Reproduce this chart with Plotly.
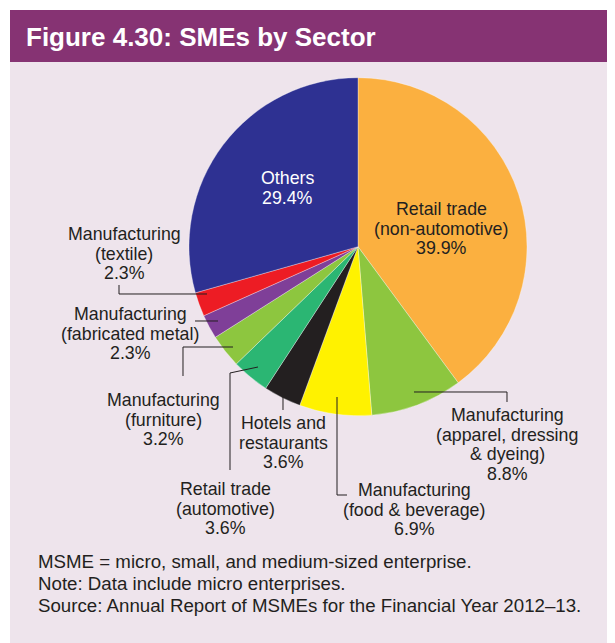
import plotly.graph_objects as go

W, H = 615, 643
OFF = 8  # page body margin of the html page

# ---- data ----
sectors = [
    "Retail trade (non-automotive)",
    "Manufacturing (apparel, dressing & dyeing)",
    "Manufacturing (food & beverage)",
    "Hotels and restaurants",
    "Retail trade (automotive)",
    "Manufacturing (furniture)",
    "Manufacturing (fabricated metal)",
    "Manufacturing (textile)",
    "Others",
]
shares = [39.9, 8.8, 6.9, 3.6, 3.6, 3.2, 2.3, 2.3, 29.4]
label_lines = [
    ["Retail trade", "(non-automotive)"],
    ["Manufacturing", "(apparel, dressing", "& dyeing)"],
    ["Manufacturing", "(food & beverage)"],
    ["Hotels and", "restaurants"],
    ["Retail trade", "(automotive)"],
    ["Manufacturing", "(furniture)"],
    ["Manufacturing", "(fabricated metal)"],
    ["Manufacturing", "(textile)"],
    ["Others"],
]
slice_colors = ["#FBB040", "#8DC63F", "#FFF200", "#231F20", "#2BB673",
                "#8DC63F", "#7F3F98", "#ED1C24", "#2E3192"]
title_text = "Figure 4.30: SMEs by Sector"
footer_lines = [
    "MSME = micro, small, and medium-sized enterprise.",
    "Note: Data include micro enterprises.",
    "Source: Annual Report of MSMEs for the Financial Year 2012\u201313.",
]

# ---- layout helpers (window pixel -> paper) ----
def px(x):
    return (x - OFF) / W

def py(y):
    return 1 - (y - OFF) / H

cx, cy, r = 358, 246.7, 169
TXT = "#231F20"
FONT = "Liberation Sans, Arial, sans-serif"

fig = go.Figure()
fig.add_trace(go.Pie(
    labels=sectors, values=shares, sort=False, direction="clockwise", rotation=0,
    marker=dict(colors=slice_colors, line=dict(color="rgba(255,255,255,0.55)", width=0.6)),
    textinfo="none", hoverinfo="label+percent", showlegend=False,
    domain=dict(x=[px(cx - r), px(cx + r)], y=[py(cy + r), py(cy - r)]),
))

shapes = [
    dict(type="rect", xref="paper", yref="paper", x0=px(10), x1=px(W + 20), y0=py(62), y1=py(H + 20),
         fillcolor="#EEE4EC", line=dict(width=0), layer="below"),
    dict(type="rect", xref="paper", yref="paper", x0=px(10), x1=px(W + 20), y0=py(10), y1=py(62),
         fillcolor="#863373", line=dict(width=0), layer="below"),
]

# leader lines (label anchor geometry)
leaders = [
    [(414, 392), (507, 392), (507, 402)],      # apparel
    [(337, 397), (337, 495), (347, 495)],      # food
    [(283, 397), (283, 410)],                  # hotels
    [(258, 367), (230, 373), (230, 470)],      # retail auto
    [(233, 347), (183, 347), (183, 376)],      # furniture
    [(218, 321), (195, 321)],                  # fabricated metal
    [(207, 294), (119, 294), (119, 285)],      # textile
]
for pts in leaders:
    path = "M " + " L ".join(f"{px(x):.5f},{py(y):.5f}" for x, y in pts)
    shapes.append(dict(type="path", xref="paper", yref="paper", path=path,
                       line=dict(color=TXT, width=1)))

# label anchors: centre x, first line y
label_pos = [(441, 209), (507, 415), (414, 490), (283, 423), (225, 489),
             (163, 400), (130, 314), (124, 234), (287, 178)]
LS = 19.6
annotations = []
for i, (lines, (lx, ly)) in enumerate(zip(label_lines, label_pos)):
    col = "white" if sectors[i] == "Others" else TXT
    all_lines = lines + [f"{shares[i]:.1f}%"]
    for k, t in enumerate(all_lines):
        annotations.append(dict(x=px(lx), y=py(ly + k * LS), xref="paper", yref="paper",
                                text=t, showarrow=False, xanchor="center", yanchor="middle",
                                font=dict(family=FONT, size=17.8, color=col)))

annotations.append(dict(x=px(24), y=py(37), xref="paper", yref="paper", text=f"<b>{title_text}</b>",
                        showarrow=False, xanchor="left", yanchor="middle",
                        font=dict(family=FONT, size=26, color="white")))
for k, t in enumerate(footer_lines):
    annotations.append(dict(x=px(36), y=py(561 + k * 22), xref="paper", yref="paper", text=t,
                            showarrow=False, xanchor="left", yanchor="middle",
                            font=dict(family=FONT, size=18.7, color=TXT)))

fig.update_layout(
    width=W, height=H, margin=dict(l=0, r=0, t=0, b=0),
    paper_bgcolor="white", plot_bgcolor="white",
    shapes=shapes, annotations=annotations,
)
fig.write_html("out.html")
